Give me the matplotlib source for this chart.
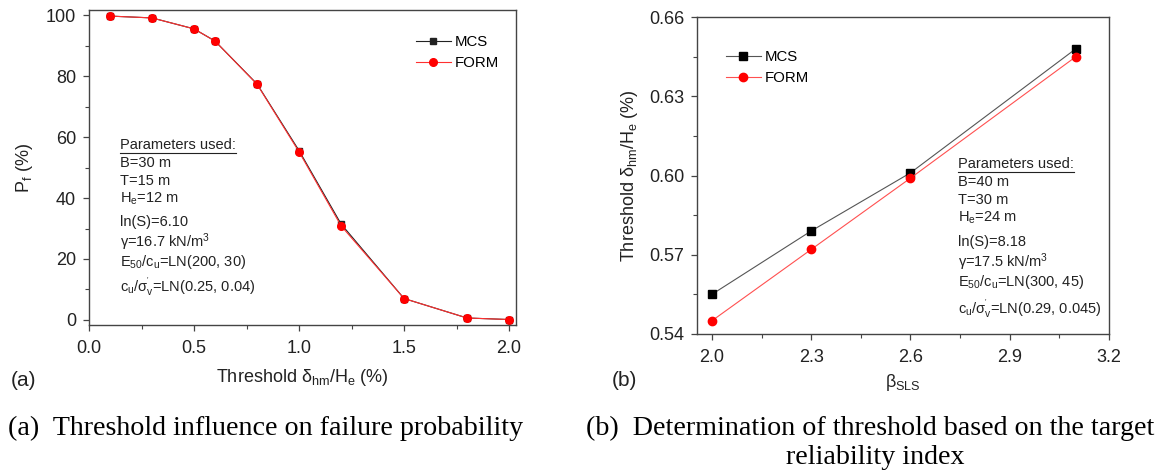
import matplotlib
matplotlib.use("Agg")
import matplotlib.pyplot as plt
from matplotlib.lines import Line2D
from matplotlib.ticker import MultipleLocator, FixedLocator, FormatStrFormatter

plt.rcParams['font.family'] = ['Liberation Sans', 'DejaVu Sans']
plt.rcParams['mathtext.fontset'] = 'custom'
plt.rcParams['mathtext.rm'] = 'Liberation Sans'
plt.rcParams['mathtext.it'] = 'Liberation Sans:italic'

# ---- data panel (a)
thr_a = [0.1, 0.3, 0.5, 0.6, 0.8, 1.0, 1.2, 1.5, 1.8, 2.0]
pf_mcs = [99.8, 99.2, 95.6, 91.6, 77.5, 55.6, 31.5, 7.0, 0.6, 0.1]
pf_form = [99.8, 99.2, 95.6, 91.6, 77.4, 55.2, 30.9, 7.0, 0.6, 0.1]
# ---- data panel (b)
beta_sls = [2.0, 2.3, 2.6, 3.1]
thr_mcs = [0.555, 0.579, 0.601, 0.648]
thr_form = [0.545, 0.572, 0.599, 0.645]
beta_ticks = [2.0, 2.3, 2.6, 2.9, 3.2]

params_a = ["B=30 m", "T=15 m", r"H$_\mathregular{e}$=12 m", "ln(S)=6.10",
            r"γ=16.7 kN/m$^\mathregular{3}$", r"E$_\mathregular{50}$/c$_\mathregular{u}$=LN(200, 30)",
            r"c$_\mathregular{u}$/σ$_\mathregular{v}^\mathregular{'}$=LN(0.25, 0.04)"]
params_b = ["B=40 m", "T=30 m", r"H$_\mathregular{e}$=24 m", "ln(S)=8.18",
            r"γ=17.5 kN/m$^\mathregular{3}$", r"E$_\mathregular{50}$/c$_\mathregular{u}$=LN(300, 45)",
            r"c$_\mathregular{u}$/σ$_\mathregular{v}^\mathregular{'}$=LN(0.29, 0.045)"]

W, H = 1162, 475
fig = plt.figure(figsize=(W / 100, H / 100), dpi=100)
TC = '#222222'
FS = 13

def fx(px):
    return px / W

def fy(py):
    return 1 - py / H

axa = fig.add_axes([fx(89), fy(325), fx(516 - 89), (325 - 10) / H])
axb = fig.add_axes([fx(697), fy(334), fx(1109 - 697), (334 - 17) / H])

for ax in (axa, axb):
    for s in ax.spines.values():
        s.set_color('#444444')
        s.set_linewidth(1.0)
    ax.tick_params(which='major', direction='out', length=4.3, width=0.9, labelsize=FS,
                   colors='#444444', labelcolor=TC)
    ax.tick_params(which='minor', direction='out', length=2.6, width=0.8, colors='#444444')
    ax.tick_params(axis='x', which='major', pad=6.5)
    ax.tick_params(axis='y', which='major', pad=5)

axa.plot(thr_a, pf_mcs, color='#222222', lw=0.8, marker='s', ms=5, label='MCS')
axa.plot(thr_a, pf_form, color='#ff3030', lw=0.8, marker='o', ms=5.5, mfc='red', mec='red', label='FORM')
axa.set_xlim(0, 2.033)
axa.set_ylim(-1.7, 101.8)
axa.xaxis.set_major_locator(MultipleLocator(0.5))
axa.xaxis.set_minor_locator(MultipleLocator(0.25))
axa.yaxis.set_major_locator(MultipleLocator(20))
axa.yaxis.set_minor_locator(MultipleLocator(10))
axa.xaxis.set_major_formatter(FormatStrFormatter('%.1f'))
axa.set_ylabel(r"P$_\mathregular{f}$ (%)", fontsize=FS, color=TC, labelpad=8)
axa.set_xlabel(r"Threshold δ$_\mathregular{hm}$/H$_\mathregular{e}$ (%)", fontsize=FS, color=TC, labelpad=7)
axa.legend(loc='center left', bbox_to_anchor=((416 - 89) / 427, 1 - (52.5 - 10) / 315), frameon=False,
           fontsize=10.8, handlelength=2.3, handletextpad=0.3, labelspacing=0.45, borderpad=0,
           borderaxespad=0)

axb.plot(beta_sls, thr_mcs, color='#555555', lw=0.8, marker='s', ms=5.5, mfc='black', mec='black', label='MCS')
axb.plot(beta_sls, thr_form, color='#ff5050', lw=0.8, marker='o', ms=6, mfc='red', mec='red', label='FORM')
axb.set_xlim(1.955, 3.2)
axb.set_ylim(0.54, 0.66)
axb.xaxis.set_major_locator(FixedLocator(beta_ticks))
axb.xaxis.set_minor_locator(FixedLocator([(a + b) / 2 for a, b in zip(beta_ticks[:-1], beta_ticks[1:])]))
axb.yaxis.set_major_locator(MultipleLocator(0.03))
axb.yaxis.set_minor_locator(MultipleLocator(0.015))
axb.xaxis.set_major_formatter(FormatStrFormatter('%.1f'))
axb.yaxis.set_major_formatter(FormatStrFormatter('%.2f'))
axb.set_ylabel(r"Threshold δ$_\mathregular{hm}$/H$_\mathregular{e}$ (%)", fontsize=FS, color=TC, labelpad=6)
axb.set_xlabel(r"β$_\mathregular{SLS}$", fontsize=FS, color=TC, labelpad=4)
axb.legend(loc='center left', bbox_to_anchor=((726 - 697) / 412, 1 - (67.5 - 17) / 317), frameon=False,
           fontsize=10.8, handlelength=2.3, handletextpad=0.3, labelspacing=0.45, borderpad=0,
           borderaxespad=0)

# parameter blocks
def param_block(x0, ytop, ys, lines):
    t = fig.text(fx(x0), fy(ytop), "Parameters used:", fontsize=10.5, color=TC, va='center', ha='left')
    fig.canvas.draw()
    bb = t.get_window_extent()
    fig.add_artist(Line2D([bb.x0 / W, bb.x1 / W], [(bb.y0 - 0.5) / H, (bb.y0 - 0.5) / H],
                          color=TC, lw=0.8, transform=fig.transFigure))
    for y, s in zip(ys, lines):
        fig.text(fx(x0), fy(y), s, fontsize=10.5, color=TC, va='center', ha='left')

param_block(120, 145, [163, 181, 199, 222, 242, 262, 287], params_a)
param_block(958, 164, [182, 200, 218, 242, 262, 282, 309], params_b)

fig.text(fx(11), fy(380), "(a)", fontsize=15, color=TC, va='center', ha='left')
fig.text(fx(612), fy(380), "(b)", fontsize=15, color=TC, va='center', ha='left')

serif = ['Liberation Serif', 'DejaVu Serif']
CFS = 20.2
fig.text(fx(8), fy(428), "(a)  Threshold influence on failure probability", family=serif,
         fontsize=CFS, color='black', va='center', ha='left')
fig.text(fx(586), fy(428), "(b)  Determination of threshold based on the target", family=serif,
         fontsize=CFS, color='black', va='center', ha='left')
fig.text(fx(875), fy(458), "reliability index", family=serif,
         fontsize=CFS, color='black', va='center', ha='center')

fig.savefig("out.png", dpi=100)
